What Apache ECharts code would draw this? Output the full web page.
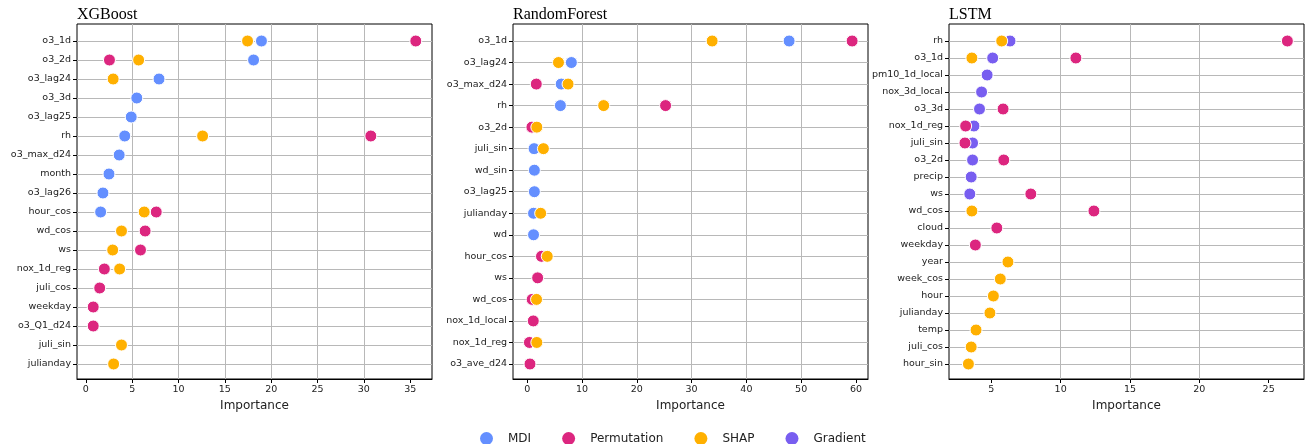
<!DOCTYPE html>
<html>
<head>
<meta charset="utf-8">
<script src="https://cdn.jsdelivr.net/npm/echarts@6/dist/echarts.min.js"></script>
<style>
  html, body { margin: 0; padding: 0; background: #fff; }
  #chart { width: 1311px; height: 444px; }
</style>
</head>
<body>
<div id="chart"></div>
<script>
// Importance methods and their colours
const methods = ['MDI', 'Permutation', 'SHAP', 'Gradient'];
const methodColors = ['#648FFF', '#DC267F', '#FFB000', '#785EF0'];

// XGBoost
const xgbFeatures = ['o3_1d', 'o3_2d', 'o3_lag24', 'o3_3d', 'o3_lag25', 'rh', 'o3_max_d24', 'month', 'o3_lag26',
  'hour_cos', 'wd_cos', 'ws', 'nox_1d_reg', 'juli_cos', 'weekday', 'o3_Q1_d24', 'juli_sin', 'julianday'];
const xgbMDI  = [18.95, 18.1, 7.9, 5.5, 4.9, 4.2, 3.6, 2.5, 1.85, 1.6, null, null, null, null, null, null, null, null];
const xgbPerm = [35.6, 2.55, null, null, null, 30.75, null, null, null, 7.6, 6.4, 5.9, 2.0, 1.5, 0.8, 0.8, null, null];
const xgbSHAP = [17.45, 5.7, 2.95, null, null, 12.6, null, null, null, 6.3, 3.85, 2.9, 3.65, null, null, null, 3.85, 3.0];
const xgbRange = [-0.95, 37.35];
const xgbTicks = [0, 5, 10, 15, 20, 25, 30, 35];

// RandomForest
const rfFeatures = ['o3_1d', 'o3_lag24', 'o3_max_d24', 'rh', 'o3_2d', 'juli_sin', 'wd_sin', 'o3_lag25', 'julianday',
  'wd', 'hour_cos', 'ws', 'wd_cos', 'nox_1d_local', 'nox_1d_reg', 'o3_ave_d24'];
const rfMDI  = [47.8, 8.05, 6.2, 6.05, null, 1.25, 1.3, 1.3, 1.15, 1.15, null, null, null, null, null, null];
const rfPerm = [59.3, null, 1.65, 25.25, 0.85, null, null, null, null, null, 2.6, 1.9, 0.9, 1.1, 0.4, 0.5];
const rfSHAP = [33.75, 5.7, 7.45, 13.95, 1.75, 2.95, null, null, 2.45, null, 3.65, null, 1.7, null, 1.75, null];
const rfRange = [-2.6, 62.2];
const rfTicks = [0, 10, 20, 30, 40, 50, 60];

// LSTM
const lstmFeatures = ['rh', 'o3_1d', 'pm10_1d_local', 'nox_3d_local', 'o3_3d', 'nox_1d_reg', 'juli_sin', 'o3_2d',
  'precip', 'ws', 'wd_cos', 'cloud', 'weekday', 'year', 'week_cos', 'hour', 'julianday', 'temp', 'juli_cos', 'hour_sin'];
const lstmGrad = [6.35, 5.1, 4.7, 4.3, 4.15, 3.75, 3.65, 3.65, 3.55, 3.45, null, null, null, null, null, null, null, null, null, null];
const lstmPerm = [26.35, 11.1, null, null, 5.85, 3.15, 3.1, 5.9, null, 7.85, 12.4, 5.4, 3.85, null, null, null, null, null, null, null];
const lstmSHAP = [5.75, 3.6, null, null, null, null, null, null, null, null, 3.6, null, null, 6.2, 5.65, 5.15, 4.9, 3.9, 3.55, 3.35];
const lstmRange = [1.95, 27.55];
const lstmTicks = [5, 10, 15, 20, 25];

const panels = [
  { title: 'XGBoost', features: xgbFeatures, values: { MDI: xgbMDI, Permutation: xgbPerm, SHAP: xgbSHAP }, range: xgbRange, ticks: xgbTicks, left: 77 },
  { title: 'RandomForest', features: rfFeatures, values: { MDI: rfMDI, Permutation: rfPerm, SHAP: rfSHAP }, range: rfRange, ticks: rfTicks, left: 513 },
  { title: 'LSTM', features: lstmFeatures, values: { Gradient: lstmGrad, Permutation: lstmPerm, SHAP: lstmSHAP }, range: lstmRange, ticks: lstmTicks, left: 949 }
];

// later series sit on top of earlier ones
const drawOrder = ['MDI', 'Gradient', 'Permutation', 'SHAP'];

const sans = 'DejaVu Sans';
const gridColor = '#b8b8b8';
const plotW = 355, frameTop = 24, frameH = 355, rowTop = 41, rowH = 323;

const option = {
  animation: false,
  backgroundColor: '#fff',
  title: [], grid: [], xAxis: [], yAxis: [], series: [],
  legend: {
    data: methods,
    left: 475, top: 427,
    icon: 'circle',
    itemWidth: 13, itemHeight: 13, itemGap: 31,
    itemStyle: { borderWidth: 0 },
    textStyle: { fontFamily: sans, fontSize: 12, color: '#222', padding: [0, 0, 0, 10] }
  }
};

panels.forEach((p, i) => {
  const fi = 2 * i, di = 2 * i + 1;
  const step = p.ticks[1] - p.ticks[0];
  const isTick = v => p.ticks.some(t => Math.abs(t - v) < 1e-6);

  option.title.push({
    text: p.title, left: p.left, top: 7, padding: 0,
    textStyle: { fontFamily: 'Liberation Serif', fontSize: 16, fontWeight: 'normal', color: '#000' }
  });

  // outer frame: carries the x axis and vertical grid lines
  option.grid.push({ left: p.left, top: frameTop, width: plotW, height: frameH, show: true,
    borderColor: '#000', borderWidth: 1, backgroundColor: 'transparent', containLabel: false, outerBoundsMode: 'none' });
  // inner rows: carries the feature axis and the markers
  option.grid.push({ left: p.left, top: rowTop, width: plotW, height: rowH, show: false,
    containLabel: false, outerBoundsMode: 'none' });

  option.xAxis.push({
    gridIndex: fi, type: 'value', min: p.range[0], max: p.range[1],
    minInterval: step, maxInterval: step, splitNumber: p.ticks.length,
    axisLine: { show: true, onZero: false, lineStyle: { color: '#000', width: 1 } },
    axisTick: { show: true, length: 4, customValues: p.ticks, lineStyle: { color: '#000' } },
    axisLabel: { customValues: p.ticks, formatter: v => isTick(v) ? String(Math.round(v)) : '',
      fontFamily: sans, fontSize: 9.5, color: '#222', margin: 6, hideOverlap: false },
    splitLine: { show: true, showMinLine: false, showMaxLine: false, lineStyle: { color: gridColor, width: 1 } },
    name: 'Importance', nameLocation: 'middle', nameGap: 16,
    nameTextStyle: { fontFamily: sans, fontSize: 12, color: '#222' }
  });
  option.yAxis.push({ gridIndex: fi, type: 'value', show: false, min: 0, max: 1 });

  option.xAxis.push({ gridIndex: di, type: 'value', show: false, min: p.range[0], max: p.range[1],
    axisLine: { onZero: false } });
  option.yAxis.push({
    gridIndex: di, type: 'category', data: p.features, inverse: true, boundaryGap: false,
    position: 'left',
    axisLine: { show: false, onZero: false },
    axisTick: { show: true, length: 4, lineStyle: { color: '#000' } },
    axisLabel: { fontFamily: sans, fontSize: 9.5, color: '#222', margin: 6, interval: 0 },
    splitLine: { show: true, lineStyle: { color: gridColor, width: 1 } }
  });

  drawOrder.forEach(m => {
    const vals = p.values[m];
    if (!vals) return;
    const data = [];
    p.features.forEach((f, k) => { if (vals[k] != null) data.push([vals[k], f]); });
    option.series.push({
      name: m, type: 'scatter', xAxisIndex: di, yAxisIndex: di, data,
      symbol: 'circle', symbolSize: 12,
      itemStyle: { color: methodColors[methods.indexOf(m)], borderColor: '#fff', borderWidth: 1, opacity: 1 },
      emphasis: { disabled: true }
    });
  });
});

const chart = echarts.init(document.getElementById('chart'), null, { renderer: 'canvas' });
chart.setOption(option);
</script>
</body>
</html>
